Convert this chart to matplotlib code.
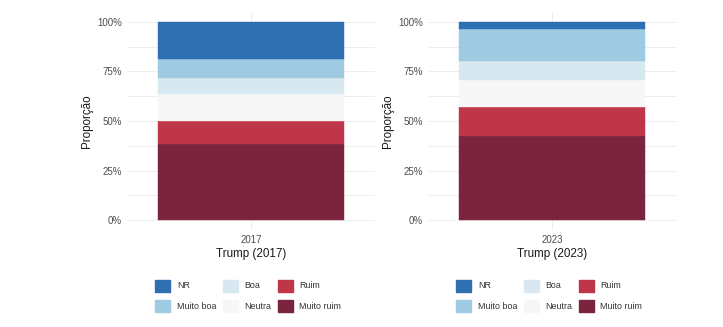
import matplotlib
matplotlib.use("Agg")
import matplotlib.pyplot as plt
from matplotlib.patches import Patch
import numpy as np

plt.rcParams['font.family'] = ['Liberation Sans', 'DejaVu Sans']

# avaliação de governo, proporções empilhadas de baixo (Muito ruim) para cima (NR)
categorias = ['Muito ruim', 'Ruim', 'Neutra', 'Boa', 'Muito boa', 'NR']
cores = ['#7c243e', '#bf364a', '#f7f7f7', '#d8e8f1', '#9ecbe2', '#2d6fb0']

anos = ['2017', '2023']
rotulos = ['Trump (2017)', 'Trump (2023)']
prop_2017 = [0.384, 0.118, 0.132, 0.084, 0.093, 0.189]
prop_2023 = [0.422, 0.149, 0.137, 0.094, 0.161, 0.037]
valores = [prop_2017, prop_2023]

ordem_legenda = ['NR', 'Muito boa', 'Boa', 'Neutra', 'Ruim', 'Muito ruim']

fig = plt.figure(figsize=(7.23, 3.27), dpi=100)
posicoes = [0.1757, 0.592]

for x0, ano, rot, vals in zip(posicoes, anos, rotulos, valores):
    ax = fig.add_axes([x0, 0.2966, 0.343, 0.6667])
    base = 0.0
    for cat, cor, v in zip(categorias, cores, vals):
        ax.bar([0], [v], bottom=base, width=0.9, color=cor, edgecolor=cor,
               linewidth=0.3, zorder=3)
        base += v
    ax.set_xlim(-0.6, 0.6)
    ax.set_ylim(-0.05, 1.05)
    ax.set_yticks([0, 0.25, 0.5, 0.75, 1.0])
    ax.set_yticklabels(['0%', '25%', '50%', '75%', '100%'])
    ax.set_yticks(np.arange(0.125, 1.0, 0.25), minor=True)
    ax.set_xticks([0])
    ax.set_xticklabels([ano])
    ax.grid(True, which='both', color='#ebebeb', linewidth=0.6, zorder=0)
    ax.tick_params(which='both', length=0, labelsize=7, colors='#4d4d4d', pad=3.6)
    ax.tick_params(axis='x', pad=3.5)
    for s in ax.spines.values():
        s.set_visible(False)
    ax.set_ylabel('Proporção', fontsize=8.4, color='#1a1a1a', labelpad=3)
    ax.set_xlabel(rot, fontsize=8.4, color='#1a1a1a', labelpad=2)

    handles = [Patch(facecolor=cores[categorias.index(c)],
                     edgecolor=cores[categorias.index(c)]) for c in ordem_legenda]
    cx = x0 + 0.343 / 2 - 0.004
    fig.legend(handles, ordem_legenda, ncol=3, loc='center',
               bbox_to_anchor=(cx, 1 - 296 / 327), frameon=False,
               fontsize=6.4, handlelength=1.7, handleheight=1.7,
               handletextpad=0.75, columnspacing=0.7, labelspacing=1.0,
               labelcolor='#333333', borderpad=0)

fig.savefig('out.png', dpi=100)
